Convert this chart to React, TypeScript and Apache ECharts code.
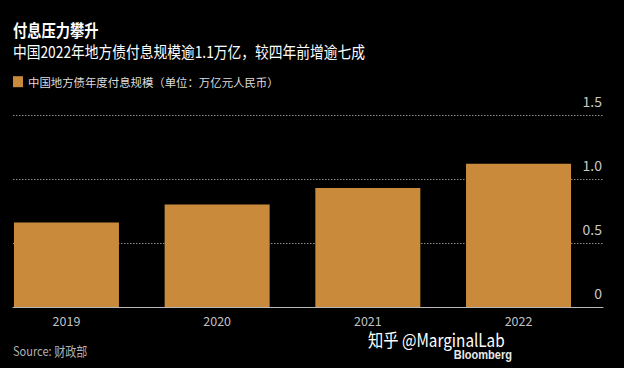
import React, { useEffect, useRef } from "react";
import * as echarts from "echarts";

const categories = ["2019", "2020", "2021", "2022"];
const interestValues = [0.66, 0.8, 0.93, 1.12];
const yTicks = [0, 0.5, 1.0, 1.5];
const seriesName = "中国地方债年度付息规模（单位：万亿元人民币）";
const titleText = "付息压力攀升";
const subtitleText = "中国2022年地方债付息规模逾1.1万亿，较四年前增逾七成";
const sourceText = "Source: 财政部";
const watermarkText = "知乎 @MarginalLab";
const brandText = "Bloomberg";

const FONT = '"Noto Sans CJK SC", "Noto Sans", sans-serif';
const BAR = "#c98b3b";

export default function App() {
  const ref = useRef<HTMLDivElement>(null);
  useEffect(() => {
    if (!ref.current) return;
    const chart = echarts.init(ref.current, undefined, { renderer: "svg" });
    const yMin = yTicks[0];
    const yMax = yTicks[yTicks.length - 1];
    const yInterval = yTicks[1] - yTicks[0];
    const barData = categories.map((_, i) => [i, interestValues[i]]);
    chart.setOption({
      animation: false,
      backgroundColor: "#000000",
      textStyle: { fontFamily: FONT },
      legend: {
        left: 8,
        top: 71,
        icon: "rect",
        itemWidth: 10,
        itemHeight: 11,
        itemGap: 10,
        textStyle: { color: "#dddddd", fontSize: 11.4, fontFamily: FONT },
        data: [seriesName],
      },
      grid: [
        { left: 0, right: 0, top: 115, bottom: 61 },
        { left: 13, right: 21, top: 115, bottom: 61 },
      ],
      xAxis: [
        {
          type: "value",
          gridIndex: 0,
          min: -0.441,
          max: 3.7,
          axisLine: { show: false },
          axisTick: { show: false },
          splitLine: { show: false },
          axisLabel: {
            color: "#c0c0c0",
            fontSize: 12.5,
            margin: 7,
            fontFamily: FONT,
            showMinLabel: false,
            showMaxLabel: false,
            formatter: (v: number) =>
              Number.isInteger(v) && categories[v] !== undefined ? categories[v] : "",
          },
        },
        {
          type: "category",
          gridIndex: 1,
          data: categories,
          axisLine: { show: true, lineStyle: { color: "#b8b8b8", width: 1 } },
          axisTick: { show: false },
          axisLabel: { show: false },
          z: 5,
        },
      ],
      yAxis: [
        {
          type: "value",
          gridIndex: 0,
          min: yMin,
          max: yMax,
          interval: yInterval,
          show: false,
          splitLine: { show: false },
        },
        {
          type: "value",
          gridIndex: 1,
          position: "right",
          min: yMin,
          max: yMax,
          interval: yInterval,
          axisLine: { show: false },
          axisTick: { show: false },
          splitLine: {
            show: true,
            lineStyle: { color: "#8a8a8a", type: [1.5, 1.5], width: 1 },
          },
          axisLabel: {
            inside: true,
            margin: 1,
            color: "#c8c8c8",
            fontSize: 14,
            fontFamily: FONT,
            verticalAlign: "bottom",
            lineHeight: 14,
            padding: [0, 0, 7, 0],
            formatter: (v: number) => (v === 0 ? "0" : v.toFixed(1)),
          },
        },
      ],
      series: [
        {
          name: seriesName,
          type: "bar",
          xAxisIndex: 0,
          yAxisIndex: 0,
          data: barData,
          barWidth: 105,
          itemStyle: { color: BAR },
          z: 3,
        },
      ],
      graphic: [
        {
          type: "text",
          x: 13,
          y: 30,
          scaleX: 0.84,
          style: {
            text: titleText,
            fill: "#ffffff",
            fontSize: 17,
            fontWeight: "bold",
            fontFamily: FONT,
            verticalAlign: "middle",
          },
        },
        {
          type: "text",
          x: 13,
          y: 51,
          scaleX: 0.86,
          style: {
            text: subtitleText,
            fill: "#ffffff",
            fontSize: 16,
            fontFamily: FONT,
            verticalAlign: "middle",
          },
        },
        {
          type: "text",
          x: 13,
          y: 350,
          scaleX: 0.85,
          style: {
            text: sourceText,
            fill: "#b0b0b0",
            fontSize: 13,
            fontFamily: FONT,
            verticalAlign: "middle",
          },
        },
        {
          type: "text",
          x: 368,
          y: 339,
          scaleX: 0.85,
          style: {
            text: watermarkText,
            fill: "#ffffff",
            fontSize: 18,
            fontFamily: FONT,
            verticalAlign: "middle",
          },
        },
        {
          type: "text",
          x: 512,
          y: 355,
          scaleX: 0.85,
          style: {
            text: brandText,
            fill: "#e8e8e8",
            fontSize: 13,
            fontWeight: "bold",
            fontFamily: '"Liberation Sans", Arial, sans-serif',
            align: "right",
            verticalAlign: "middle",
          },
        },
      ],
    });
    return () => chart.dispose();
  }, []);
  return (
    <div
      ref={ref}
      style={{ position: "absolute", left: 0, top: 0, width: 624, height: 368 }}
    />
  );
}
